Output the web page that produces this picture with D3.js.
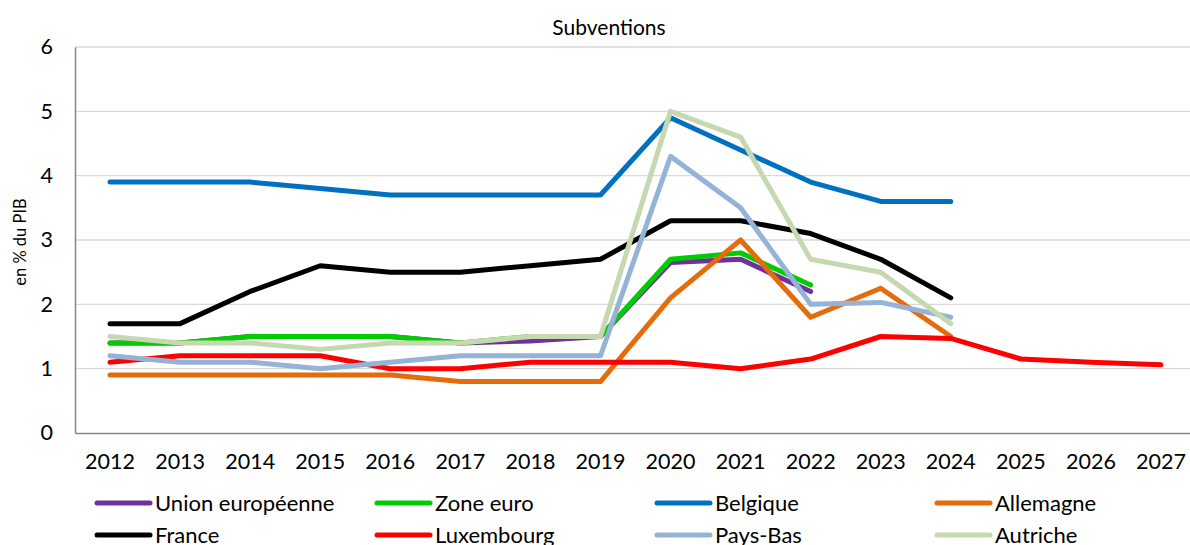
<!DOCTYPE html>
<html>
<head>
<meta charset="utf-8">
<script src="https://cdn.jsdelivr.net/npm/d3@7"></script>
<style>
  html, body { margin: 0; padding: 0; background: #ffffff; }
  svg { display: block; font-family: Lato, "Open Sans", sans-serif; }
</style>
</head>
<body>
<svg id="chart" width="1190" height="545"></svg>
<script>
// Years on the horizontal axis
const years = [2012, 2013, 2014, 2015, 2016, 2017, 2018, 2019, 2020, 2021, 2022, 2023, 2024, 2025, 2026, 2027];
const yTicks = [0, 1, 2, 3, 4, 5, 6];

// Subsidies, in % of GDP (null = no data)
const unionEuropeenne = [1.4, 1.4, 1.5, 1.5, 1.5, 1.4, 1.43, 1.5, 2.65, 2.7, 2.2, null, null, null, null, null];
const zoneEuro       = [1.4, 1.4, 1.5, 1.5, 1.5, 1.4, 1.5, 1.5, 2.7, 2.8, 2.3, null, null, null, null, null];
const belgique       = [3.9, 3.9, 3.9, 3.8, 3.7, 3.7, 3.7, 3.7, 4.9, 4.4, 3.9, 3.6, 3.6, null, null, null];
const allemagne      = [0.9, 0.9, 0.9, 0.9, 0.9, 0.8, 0.8, 0.8, 2.1, 3.0, 1.8, 2.25, 1.5, null, null, null];
const france         = [1.7, 1.7, 2.2, 2.6, 2.5, 2.5, 2.6, 2.7, 3.3, 3.3, 3.1, 2.7, 2.1, null, null, null];
const luxembourg     = [1.1, 1.2, 1.2, 1.2, 1.0, 1.0, 1.1, 1.1, 1.1, 1.0, 1.15, 1.5, 1.47, 1.15, 1.1, 1.06];
const paysBas        = [1.2, 1.1, 1.1, 1.0, 1.1, 1.2, 1.2, 1.2, 4.3, 3.5, 2.0, 2.03, 1.8, null, null, null];
const autriche       = [1.5, 1.4, 1.4, 1.3, 1.4, 1.4, 1.5, 1.5, 5.0, 4.6, 2.7, 2.5, 1.7, null, null, null];

const seriesNames  = ["Union européenne", "Zone euro", "Belgique", "Allemagne", "France", "Luxembourg", "Pays-Bas", "Autriche"];
const seriesValues = [unionEuropeenne, zoneEuro, belgique, allemagne, france, luxembourg, paysBas, autriche];
const seriesColors = ["#7030A0", "#00CC00", "#0070C0", "#E46C0A", "#000000", "#FF0000", "#95B3D7", "#C6D8B0"];

const svg = d3.select("#chart");
const plot = { left: 75, right: 1196, top: 47, bottom: 433 };

const x = d3.scaleBand().domain(years).range([plot.left, plot.right]).padding(0);
const y = d3.scaleLinear().domain([0, 6]).range([plot.bottom, plot.top]);
const cx = yr => x(yr) + x.bandwidth() / 2;

// Title
svg.append("text")
  .attr("x", 609).attr("y", 35)
  .attr("text-anchor", "middle")
  .attr("font-size", 21)
  .attr("fill", "#000")
  .text("Subventions");

// Horizontal gridlines
svg.append("g")
  .selectAll("line")
  .data(yTicks.filter(t => t > 0))
  .join("line")
  .attr("x1", plot.left).attr("x2", plot.right)
  .attr("y1", d => y(d)).attr("y2", d => y(d))
  .attr("stroke", "#D9D9D9").attr("stroke-width", 1.3);

// Y axis
const yAxis = svg.append("g")
  .attr("transform", `translate(${plot.left},0)`)
  .call(d3.axisLeft(y).tickValues(yTicks).tickFormat(d3.format("d")).tickSize(0).tickPadding(22));
yAxis.select(".domain").attr("stroke", "#868686").attr("stroke-width", 1.5);
yAxis.selectAll("text").attr("font-size", 21.5).attr("fill", "#000").attr("font-family", "Lato, 'Open Sans', sans-serif");

// X axis
const xAxis = svg.append("g")
  .attr("transform", `translate(0,${plot.bottom})`)
  .call(d3.axisBottom(x).tickSize(0).tickPadding(21));
xAxis.select(".domain").attr("stroke", "#868686").attr("stroke-width", 1.5);
xAxis.selectAll("text").attr("font-size", 21.5).attr("fill", "#000").attr("font-family", "Lato, 'Open Sans', sans-serif");

// Y axis title
svg.append("text")
  .attr("transform", "translate(26,242) rotate(-90)")
  .attr("text-anchor", "middle")
  .attr("font-size", 16.5)
  .attr("fill", "#000")
  .text("en % du PIB");

// Series lines
const line = d3.line()
  .defined(d => d.v !== null)
  .x(d => cx(d.year))
  .y(d => y(d.v));

svg.append("g")
  .selectAll("path")
  .data(seriesValues.map((vals, i) => ({
    color: seriesColors[i],
    points: years.map((yr, j) => ({ year: yr, v: vals[j] }))
  })))
  .join("path")
  .attr("d", d => line(d.points))
  .attr("fill", "none")
  .attr("stroke", d => d.color)
  .attr("stroke-width", 5)
  .attr("stroke-linejoin", "round")
  .attr("stroke-linecap", "round");

// Legend: two rows of four entries
const legend = svg.append("g")
  .selectAll("g")
  .data(seriesNames.map((name, i) => ({ name, color: seriesColors[i], col: i % 4, row: Math.floor(i / 4) })))
  .join("g")
  .attr("transform", d => `translate(${97 + d.col * 280},${503 + d.row * 32})`);

legend.append("line")
  .attr("x1", 0).attr("x2", 53)
  .attr("y1", 0).attr("y2", 0)
  .attr("stroke", d => d.color)
  .attr("stroke-width", 5)
  .attr("stroke-linecap", "round");

legend.append("text")
  .attr("x", 58).attr("y", 0)
  .attr("dy", "0.35em")
  .attr("font-size", 22)
  .attr("fill", "#000")
  .text(d => d.name);
</script>
</body>
</html>
